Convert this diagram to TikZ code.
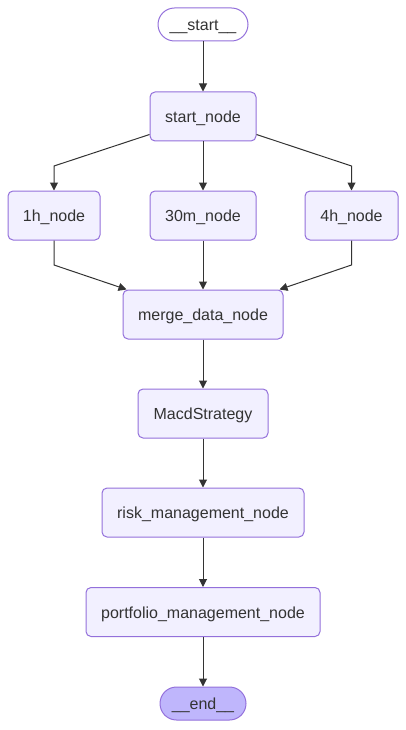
\documentclass[tikz,border=0pt]{standalone}
\usepackage{fontspec}
\setmainfont{Liberation Sans}
\usetikzlibrary{arrows.meta}
\definecolor{boxfill}{HTML}{F2F0FF}
\definecolor{boxline}{HTML}{9370DB}
\definecolor{endfill}{HTML}{BFB6FC}
\definecolor{txt}{HTML}{333333}
\definecolor{arr}{HTML}{333333}

\begin{document}
\begin{tikzpicture}[x=1pt, y=-1pt,
        box/.style={draw=boxline, fill=boxfill, rounded corners=5pt, line width=1pt,
            minimum height=49pt, inner sep=0pt, text height=12pt, text depth=0pt,
            text=txt, font=\fontsize{16}{19}\selectfont},
        term/.style={box, rounded corners=16.5pt, minimum height=33pt},
        flow/.style={draw=arr, line width=1pt, -{Triangle[length=8pt,width=8pt]}}]
                \useasboundingbox (0,0) rectangle (406,730);

                \node[term, fill=white, minimum width=90pt] (st) at (203,24.5) {\_\_start\_\_};
                \node[box, minimum width=106pt] (sn) at (203,116.5) {start\_node};

                \node[box, minimum width=92pt] (h1) at (54,215.5) {1h\_node};
                \node[box, minimum width=106pt] (m30) at (203,215.5) {30m\_node};
                \node[box, minimum width=93pt] (h4) at (351.5,215.5) {4h\_node};

                \node[box, minimum width=160pt] (md) at (203,314.5) {merge\_data\_node};
                \node[box, minimum width=130pt] (macd) at (203,413.5) {MacdStrategy};
                \node[box, minimum width=202pt] (risk) at (203,512.5) {risk\_management\_node};
                \node[box, minimum width=234pt] (pm) at (203,612) {portfolio\_management\_node};
                \node[term, fill=endfill, minimum width=86pt] (en) at (203,703.5) {\_\_end\_\_};

                % bend points
                \coordinate (b1) at (54,166);
                \coordinate (b4) at (351.5,166);
                \coordinate (c1) at (54,265);
                \coordinate (c4) at (351.5,265);

                \draw[flow] (st) -- (sn);
                \draw[flow] ([yshift=7pt]sn.south west) -- (b1) -- (h1);
                \draw[flow] (sn) -- (m30);
                \draw[flow] ([yshift=7pt]sn.south east) -- (b4) -- (h4);

                \draw[flow] (h1) -- (c1) -- ([xshift=4pt]md.north west);
                \draw[flow] (m30) -- (md);
                \draw[flow] (h4) -- (c4) -- ([xshift=-4pt]md.north east);

                \draw[flow] (md) -- (macd);
                \draw[flow] (macd) -- (risk);
                \draw[flow] (risk) -- (pm);
                \draw[flow] (pm) -- (en);
            \end{tikzpicture}
\end{document}
